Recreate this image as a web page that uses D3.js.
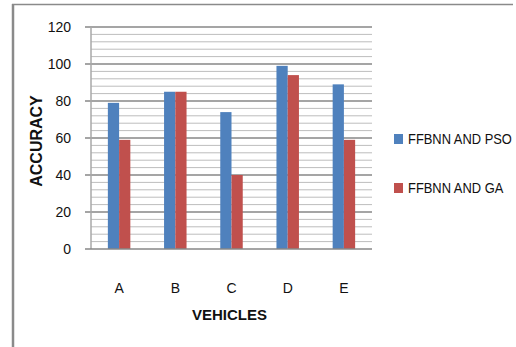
<!DOCTYPE html>
<html>
<head>
<meta charset="utf-8">
<script src="https://cdn.jsdelivr.net/npm/d3@7"></script>
<style>
html,body{margin:0;padding:0;background:#fff;}
svg{display:block;}
</style>
</head>
<body>
<svg id="chart" width="516" height="347"></svg>
<script>
const categories = ["A","B","C","D","E"];
const seriesNames = ["FFBNN AND PSO","FFBNN AND GA"];
const psoValues = [79,85,74,99,89];
const gaValues = [59,85,40,94,59];
const yTicks = [0,20,40,60,80,100,120];
const colors = ["#4f81bd","#c0504d"];

const svg = d3.select("#chart");
const font = "'Liberation Sans', Arial, sans-serif";

// outer frame
svg.append("line").attr("x1",13).attr("x2",13).attr("y1",4).attr("y2",347)
  .attr("stroke","#8a8a8a").attr("stroke-width",2.5);
svg.append("line").attr("x1",12).attr("x2",513).attr("y1",4.5).attr("y2",4.5)
  .attr("stroke","#8a8a8a").attr("stroke-width",1.5);

const pLeft = 91, pRight = 372, pTop = 27, pBottom = 249;
const y = d3.scaleLinear().domain([0,120]).range([pBottom, pTop]);
const x = d3.scaleBand().domain(categories).range([pLeft, pRight]).paddingInner(0.6).paddingOuter(0.3);
const xs = d3.scaleBand().domain(seriesNames).range([0, x.bandwidth()]);

// minor gridlines
const minor = d3.range(4, 120, 4).filter(v => v % 20 !== 0);
svg.append("g").selectAll("line").data(minor).join("line")
  .attr("x1",pLeft).attr("x2",pRight)
  .attr("y1",d=>y(d)).attr("y2",d=>y(d))
  .attr("stroke","#bdbdbd").attr("stroke-width",1);
// major gridlines
svg.append("g").selectAll("line").data(yTicks.filter(v=>v>0)).join("line")
  .attr("x1",pLeft-6).attr("x2",pRight)
  .attr("y1",d=>y(d)).attr("y2",d=>y(d))
  .attr("stroke","#878787").attr("stroke-width",1.6);

// y axis line
svg.append("line").attr("x1",pLeft).attr("x2",pLeft).attr("y1",pTop).attr("y2",pBottom)
  .attr("stroke","#a8a8a8").attr("stroke-width",1.5);

// bars
const data = categories.map((c,i)=>({cat:c, vals:[psoValues[i], gaValues[i]]}));
const groups = svg.append("g").selectAll("g").data(data).join("g")
  .attr("transform", d=>`translate(${x(d.cat)},0)`);
groups.selectAll("rect").data(d=>d.vals.map((v,j)=>({s:seriesNames[j], v, j}))).join("rect")
  .attr("x", d=>xs(d.s)).attr("width", xs.bandwidth())
  .attr("y", d=>y(d.v)).attr("height", d=>pBottom - y(d.v))
  .attr("fill", d=>colors[d.j]);

// bottom axis
svg.append("line").attr("x1",pLeft-6).attr("x2",pRight).attr("y1",pBottom).attr("y2",pBottom)
  .attr("stroke","#878787").attr("stroke-width",1.6);

// y tick labels
svg.append("g").selectAll("text").data(yTicks).join("text")
  .attr("x",71).attr("y",d=>y(d)).attr("dy","0.35em")
  .attr("text-anchor","end")
  .attr("font-family",font).attr("font-size",14).attr("fill","#111")
  .text(d=>d);

// x tick labels
svg.append("g").selectAll("text").data(categories).join("text")
  .attr("x",d=>x(d)+x.bandwidth()/2).attr("y",288).attr("dy","0.35em")
  .attr("text-anchor","middle")
  .attr("font-family",font).attr("font-size",14).attr("fill","#111")
  .text(d=>d);

// axis titles
svg.append("text").attr("x",(pLeft+pRight)/2 - 2).attr("y",315).attr("dy","0.35em")
  .attr("text-anchor","middle").attr("font-family",font).attr("font-weight","bold")
  .attr("font-size",15).attr("fill","#111").text("VEHICLES");
svg.append("text").attr("transform","translate(36,141) rotate(-90)").attr("dy","0.35em")
  .attr("text-anchor","middle").attr("font-family",font).attr("font-weight","bold")
  .attr("font-size",16).attr("fill","#111").text("ACCURACY");

// legend
const legend = svg.append("g").selectAll("g").data(seriesNames).join("g")
  .attr("transform",(d,i)=>`translate(394,${139 + i*49})`);
legend.append("rect").attr("x",0).attr("y",-5).attr("width",9).attr("height",10)
  .attr("fill",(d,i)=>colors[i]);
const ltext = legend.append("g").attr("transform","translate(14,0)")
  .append("text").attr("x",0).attr("y",0).attr("dy","0.35em")
  .attr("font-family",font)
  .attr("font-size",15.5).attr("fill","#111").text(d=>d);
// condense horizontally so the longest label fits in the reference's space
const longest = d3.max(ltext.nodes(), n => n.getComputedTextLength());
const sx = Math.min(1, 104 / longest);
ltext.attr("transform", `scale(${sx},1)`);
</script>
</body>
</html>
